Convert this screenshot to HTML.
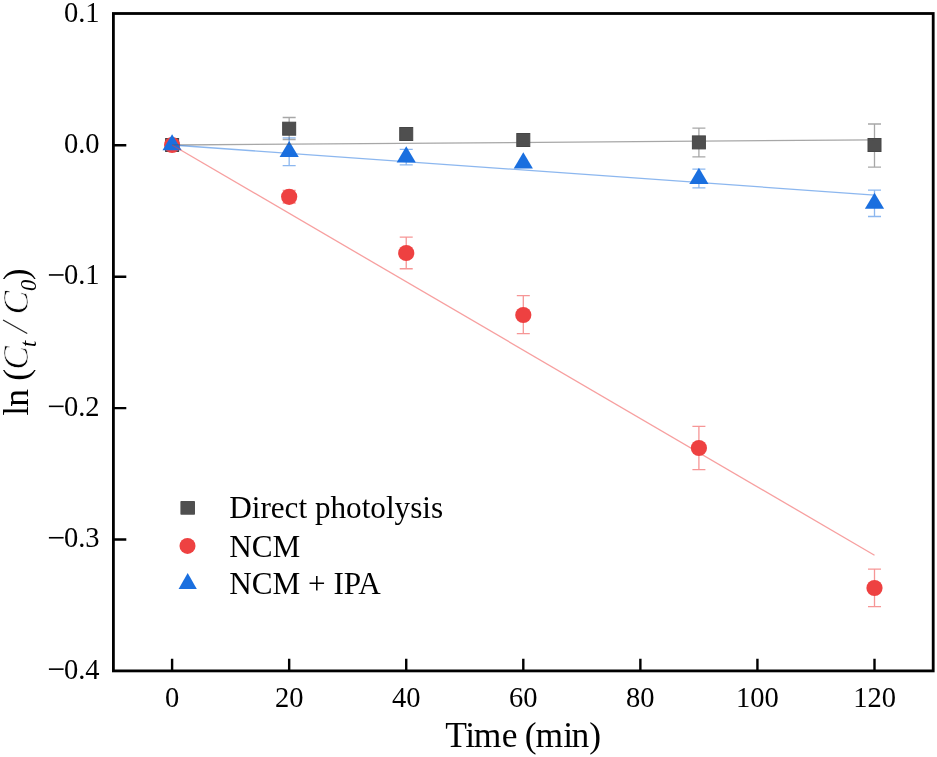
<!DOCTYPE html>
<html><head><meta charset="utf-8"><style>
html,body{margin:0;padding:0;background:#fff;}
svg{display:block;font-family:"Liberation Serif",serif;will-change:transform;}
</style></head><body>
<svg width="937" height="757" viewBox="0 0 937 757">
<rect width="937" height="757" fill="#fff"/>
<path d="M289.17 117.50V139.50M282.67 117.50H295.67M282.67 139.50H295.67" stroke="rgba(80,80,80,0.5)" stroke-width="1.3" fill="none"/><path d="M698.90 128.20V156.80M692.40 128.20H705.40M692.40 156.80H705.40" stroke="rgba(80,80,80,0.5)" stroke-width="1.3" fill="none"/><path d="M874.50 124.00V167.10M868.00 124.00H881.00M868.00 167.10H881.00" stroke="rgba(80,80,80,0.5)" stroke-width="1.3" fill="none"/><rect x="165.60" y="138.50" width="13" height="13" fill="#4f4f4f" stroke="#464646" stroke-width="1"/><rect x="282.67" y="122.20" width="13" height="13" fill="#4f4f4f" stroke="#464646" stroke-width="1"/><rect x="399.73" y="127.50" width="13" height="13" fill="#4f4f4f" stroke="#464646" stroke-width="1"/><rect x="516.80" y="133.50" width="13" height="13" fill="#4f4f4f" stroke="#464646" stroke-width="1"/><rect x="692.40" y="135.90" width="13" height="13" fill="#4f4f4f" stroke="#464646" stroke-width="1"/><rect x="868.00" y="138.50" width="13" height="13" fill="#4f4f4f" stroke="#464646" stroke-width="1"/><path d="M289.17 190.50V203.00M282.67 190.50H295.67M282.67 203.00H295.67" stroke="rgba(239,64,64,0.55)" stroke-width="1.3" fill="none"/><path d="M406.23 237.20V268.75M399.73 237.20H412.73M399.73 268.75H412.73" stroke="rgba(239,64,64,0.55)" stroke-width="1.3" fill="none"/><path d="M523.30 295.70V333.70M516.80 295.70H529.80M516.80 333.70H529.80" stroke="rgba(239,64,64,0.55)" stroke-width="1.3" fill="none"/><path d="M698.90 426.40V469.60M692.40 426.40H705.40M692.40 469.60H705.40" stroke="rgba(239,64,64,0.55)" stroke-width="1.3" fill="none"/><path d="M874.50 569.20V606.60M868.00 569.20H881.00M868.00 606.60H881.00" stroke="rgba(239,64,64,0.55)" stroke-width="1.3" fill="none"/><circle cx="172.10" cy="145.00" r="8.1" fill="#ee4141"/><circle cx="289.17" cy="196.80" r="8.1" fill="#ee4141"/><circle cx="406.23" cy="253.00" r="8.1" fill="#ee4141"/><circle cx="523.30" cy="315.00" r="8.1" fill="#ee4141"/><circle cx="698.90" cy="448.00" r="8.1" fill="#ee4141"/><circle cx="874.50" cy="588.00" r="8.1" fill="#ee4141"/><path d="M289.17 137.90V165.60M282.67 137.90H295.67M282.67 165.60H295.67" stroke="rgba(26,111,223,0.5)" stroke-width="1.3" fill="none"/><path d="M406.23 149.40V164.90M399.73 149.40H412.73M399.73 164.90H412.73" stroke="rgba(26,111,223,0.5)" stroke-width="1.3" fill="none"/><path d="M698.90 169.20V187.80M692.40 169.20H705.40M692.40 187.80H705.40" stroke="rgba(26,111,223,0.5)" stroke-width="1.3" fill="none"/><path d="M874.50 190.20V216.50M868.00 190.20H881.00M868.00 216.50H881.00" stroke="rgba(26,111,223,0.5)" stroke-width="1.3" fill="none"/><path d="M172.10 134.20L181.70 150.30H162.50Z" fill="#1a6fdf"/><path d="M289.17 140.95L298.77 157.05H279.57Z" fill="#1a6fdf"/><path d="M406.23 146.30L415.83 162.40H396.63Z" fill="#1a6fdf"/><path d="M523.30 152.30L532.90 168.40H513.70Z" fill="#1a6fdf"/><path d="M698.90 167.80L708.50 183.90H689.30Z" fill="#1a6fdf"/><path d="M874.50 192.70L884.10 208.80H864.90Z" fill="#1a6fdf"/><line x1="172.10" y1="145.0" x2="874.50" y2="139.9" stroke="rgba(80,80,80,0.5)" stroke-width="1.3"/><line x1="172.10" y1="145.0" x2="874.50" y2="195.1" stroke="rgba(26,111,223,0.5)" stroke-width="1.3"/><line x1="172.10" y1="145.0" x2="874.50" y2="555.2" stroke="rgba(239,64,64,0.5)" stroke-width="1.3"/>
<rect x="113.4" y="13.5" width="819.8" height="657.4" fill="none" stroke="#000" stroke-width="2.8"/>
<path d="M113.4 145.30H126.3M113.4 276.70H126.3M113.4 408.10H126.3M113.4 539.50H126.3M172.10 670.9V658.7M289.17 670.9V658.7M406.23 670.9V658.7M523.30 670.9V658.7M640.37 670.9V658.7M757.43 670.9V658.7M874.50 670.9V658.7" stroke="#000" stroke-width="2.4" fill="none"/>
<g font-size="28.5" fill="#000"><text x="99.5" y="21.50" text-anchor="end">0.1</text><text x="99.5" y="152.90" text-anchor="end">0.0</text><text x="99.5" y="284.30" text-anchor="end">0.1</text><text x="99.5" y="415.70" text-anchor="end">0.2</text><text x="99.5" y="547.10" text-anchor="end">0.3</text><text x="99.5" y="678.50" text-anchor="end">0.4</text><rect x="48.9" y="274.15" width="14.7" height="1.6" fill="#000"/><rect x="48.9" y="405.55" width="14.7" height="1.6" fill="#000"/><rect x="48.9" y="536.95" width="14.7" height="1.6" fill="#000"/><rect x="48.9" y="668.35" width="14.7" height="1.6" fill="#000"/><text x="172.10" y="707" text-anchor="middle">0</text><text x="289.17" y="707" text-anchor="middle">20</text><text x="406.23" y="707" text-anchor="middle">40</text><text x="523.30" y="707" text-anchor="middle">60</text><text x="640.37" y="707" text-anchor="middle">80</text><text x="757.43" y="707" text-anchor="middle">100</text><text x="874.50" y="707" text-anchor="middle">120</text></g>
<rect x="180.4" y="501" width="14.6" height="13.8" rx="0.8" fill="#4f4f4f"/>
<circle cx="187.5" cy="545.9" r="8" fill="#ee4141"/>
<path d="M187.7 572.9L196.8 588.9H178.6Z" fill="#1a6fdf"/>
<g font-size="31.2"><text x="229.2" y="518.4">Direct photolysis</text><text x="229.2" y="556.5">NCM</text><text x="229.2" y="594">NCM + IPA</text></g>
<g transform="translate(27.5,416) rotate(-90)"><text x="0.19" y="0.00" font-size="35.5">l</text><text x="9.29" y="0.00" font-size="35.5">n</text><text x="35.34" y="0.00" font-size="35.5">(</text><text x="46.22" y="0.00" font-size="35.5" font-style="italic" stroke="#fff" stroke-width="0.7">C</text><text x="69.11" y="8.80" font-size="22.5" font-style="italic">t</text><text x="101.52" y="0.00" font-size="35.5" font-style="italic" stroke="#fff" stroke-width="0.7">C</text><text x="125.13" y="8.80" font-size="22.5" font-style="italic">0</text><text x="135.66" y="0.00" font-size="35.5">)</text></g><line x1="3.5" y1="320.2" x2="26.8" y2="333.3" stroke="#2a2a2a" stroke-width="1.3" stroke-linecap="round"/>
<g font-size="35.5"><text x="445.16" y="746.7">T</text><text x="465.25" y="746.7">i</text><text x="473.85" y="746.7">m</text><text x="501.81" y="746.7">e</text><text x="524.74" y="746.7">(</text><text x="535.55" y="746.7">m</text><text x="563.25" y="746.7">i</text><text x="571.59" y="746.7">n</text><text x="589.16" y="746.7">)</text></g>
</svg></body></html>
